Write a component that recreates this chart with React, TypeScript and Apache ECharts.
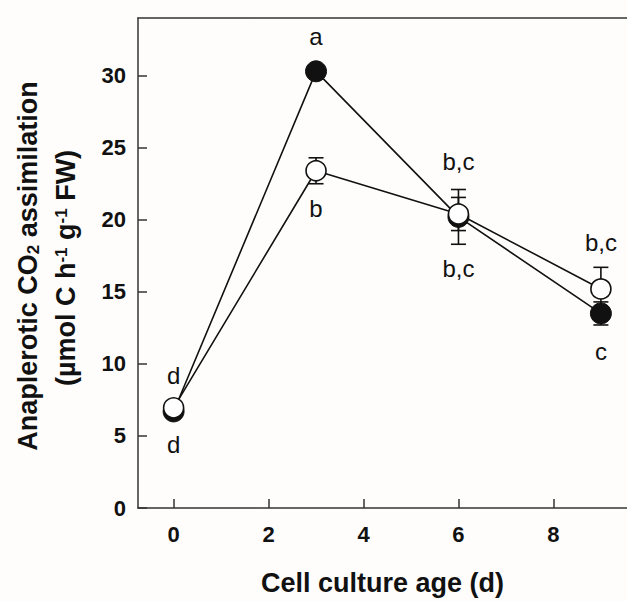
import { useEffect, useRef } from 'react';
import * as echarts from 'echarts';

const days = [0, 3, 6, 9];
const filledMeans = [6.7, 30.3, 20.2, 13.5];
const filledErrors = [0.3, 0.3, 1.9, 0.8];
const openMeans = [6.95, 23.4, 20.4, 15.2];
const openErrors = [0.3, 0.9, 1.15, 1.5];
const filledLetters = ['d', 'a', 'b,c', 'c'];
const openLetters = ['d', 'b', 'b,c', 'b,c'];
const xTicks = [0, 2, 4, 6, 8];
const yTicks = [0, 5, 10, 15, 20, 25, 30];

const FONT = 'Arial, "Liberation Sans", Helvetica, sans-serif';
const INK = '#111';
const AXIS = '#333';

const filledPlace = [
  { position: 'bottom', distance: 10 },
  { position: 'top', distance: 12 },
  { position: 'bottom', distance: 29 },
  { position: 'bottom', distance: 15 },
];
const openPlace = [
  { position: 'top', distance: 10 },
  { position: 'bottom', distance: 15 },
  { position: 'top', distance: 30 },
  { position: 'top', distance: 24 },
];

function errRender(params: any, api: any) {
  const x = api.value(0);
  const y = api.value(1);
  const e = api.value(2);
  const top = api.coord([x, y + e]);
  const bot = api.coord([x, y - e]);
  const hw = 7.5;
  const style = { stroke: INK, lineWidth: 1.6 };
  return {
    type: 'group',
    children: [
      { type: 'line', shape: { x1: top[0], y1: top[1], x2: bot[0], y2: bot[1] }, style },
      { type: 'line', shape: { x1: top[0] - hw, y1: top[1], x2: top[0] + hw, y2: top[1] }, style },
      { type: 'line', shape: { x1: bot[0] - hw, y1: bot[1], x2: bot[0] + hw, y2: bot[1] }, style },
    ],
  };
}

function seriesData(means: number[], letters: string[], place: any[]) {
  return days.map((d, i) => ({
    value: [d, means[i]],
    label: {
      show: true,
      formatter: letters[i],
      position: place[i].position,
      distance: place[i].distance,
      fontSize: 24,
      fontFamily: FONT,
      color: INK,
    },
  }));
}

export default function App() {
  const ref = useRef<HTMLDivElement>(null);
  useEffect(() => {
    if (!ref.current) return;
    const chart = echarts.init(ref.current, undefined, { renderer: 'svg' });
    const axisLineStyle = { color: AXIS, width: 1.5 };
    chart.setOption({
      animation: false,
      backgroundColor: '#fefdfb',
      grid: { left: 138, right: 0, top: 18, bottom: 85 },
      xAxis: [
        {
          type: 'value',
          min: -0.75,
          max: 9.55,
          axisLine: { show: true, onZero: false, lineStyle: axisLineStyle },
          axisTick: { show: true, inside: true, length: 9, customValues: xTicks, lineStyle: axisLineStyle },
          axisLabel: {
            customValues: xTicks,
            margin: 15,
            fontSize: 22,
            fontWeight: 'bold',
            fontFamily: FONT,
            color: INK,
          },
          splitLine: { show: false },
          name: 'Cell culture age (d)',
          nameLocation: 'middle',
          nameGap: 61,
          nameTextStyle: { fontSize: 27, fontWeight: 'bold', fontFamily: FONT, color: INK },
        },
        {
          type: 'value',
          position: 'top',
          min: -0.75,
          max: 9.55,
          axisLine: { show: true, onZero: false, lineStyle: axisLineStyle },
          axisTick: { show: false },
          axisLabel: { show: false },
          splitLine: { show: false },
        },
      ],
      yAxis: {
        type: 'value',
        min: 0,
        max: 34,
        axisLine: { show: true, onZero: false, lineStyle: axisLineStyle },
        axisTick: { show: true, inside: true, length: 9, customValues: yTicks, lineStyle: axisLineStyle },
        axisLabel: {
          customValues: yTicks,
          margin: 12,
          fontSize: 22,
          fontWeight: 'bold',
          fontFamily: FONT,
          color: INK,
        },
        splitLine: { show: false },
      },
      graphic: [
        {
          type: 'text',
          x: 28,
          y: 266,
          rotation: Math.PI / 2,
          style: {
            text: 'Anaplerotic CO{sub|2} assimilation',
            align: 'center',
            verticalAlign: 'middle',
            fontSize: 27,
            fontWeight: 'bold',
            fontFamily: FONT,
            fill: INK,
            rich: {
              sub: { fontSize: 17, fontWeight: 'bold', fontFamily: FONT, verticalAlign: 'bottom', fill: INK },
            },
          },
        },
        {
          type: 'text',
          x: 66,
          y: 268,
          rotation: Math.PI / 2,
          style: {
            text: '(µmol C h{sup|-1} g{sup|-1} FW)',
            align: 'center',
            verticalAlign: 'middle',
            fontSize: 27,
            fontWeight: 'bold',
            fontFamily: FONT,
            fill: INK,
            rich: {
              sup: { fontSize: 17, fontWeight: 'bold', fontFamily: FONT, verticalAlign: 'top', fill: INK },
            },
          },
        },
      ],
      series: [
        {
          type: 'custom',
          z: 1,
          clip: false,
          encode: { x: 0, y: 1 },
          renderItem: errRender,
          data: days.map((d, i) => [d, filledMeans[i], filledErrors[i]]),
        },
        {
          type: 'custom',
          z: 1,
          clip: false,
          encode: { x: 0, y: 1 },
          renderItem: errRender,
          data: days.map((d, i) => [d, openMeans[i], openErrors[i]]),
        },
        {
          type: 'line',
          z: 2,
          symbol: 'circle',
          symbolSize: 21,
          showSymbol: true,
          itemStyle: { color: INK, borderColor: INK, borderWidth: 1 },
          lineStyle: { color: INK, width: 1.6 },
          data: seriesData(filledMeans, filledLetters, filledPlace),
        },
        {
          type: 'line',
          z: 3,
          symbol: 'circle',
          symbolSize: 20,
          showSymbol: true,
          itemStyle: { color: '#fff', borderColor: INK, borderWidth: 1.6 },
          lineStyle: { color: INK, width: 1.6 },
          data: seriesData(openMeans, openLetters, openPlace),
        },
      ],
    });
    return () => chart.dispose();
  }, []);
  return (
    <div
      ref={ref}
      style={{ position: 'fixed', left: 0, top: 0, width: 627, height: 601 }}
    />
  );
}
